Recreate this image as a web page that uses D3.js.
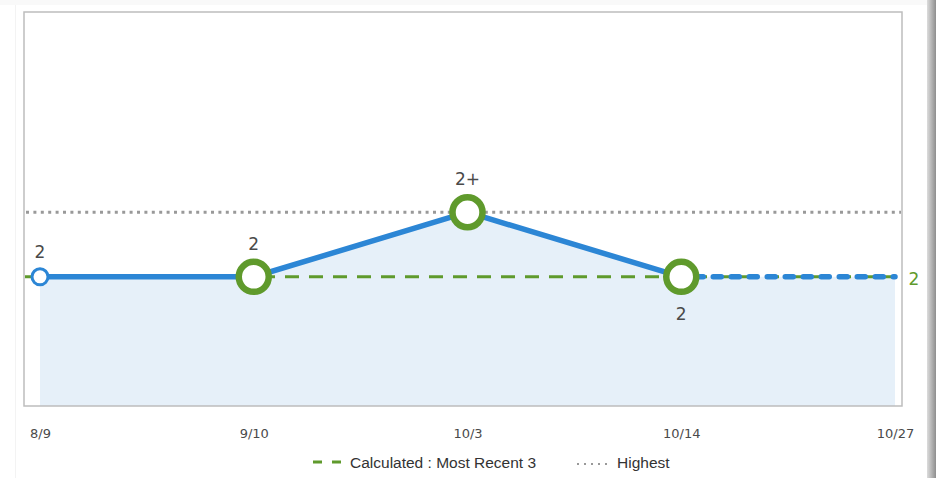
<!DOCTYPE html>
<html>
<head>
<meta charset="utf-8">
<script src="https://cdn.jsdelivr.net/npm/d3@7"></script>
<style>
  html, body { margin: 0; padding: 0; background: #fff; }
  svg { display: block; }
</style>
</head>
<body>
<svg id="chart"></svg>
<script>
// values
const dates = ['8/9', '9/10', '10/3', '10/14', '10/27']
const levels = [2, 2, 3, 2, 2]            // 3 stands for "2+"
const pointLabels = ['2', '2', '2+', '2', null]
const labelBelow = [false, false, false, true, false]
const markerKind = ['small', 'big', 'big', 'big', 'none']
const projected = [false, false, false, false, true] // last segment is dashed
const calculated = 2
const calculatedLabel = '2'
const highest = 3
const legendItems = ['Calculated : Most Recent 3', 'Highest']

const W = 936
const H = 478
const frame = { left: 24, right: 902, top: 12, bottom: 406 }

const blue = '#2c86d5'
const green = '#5f9a2c'
const textGray = '#4a4a4a'

const svg = d3.select('#chart')
  .attr('width', W)
  .attr('height', H)

// page card edges + shadow on the right
const defs = svg.append('defs')
const grad = defs.append('linearGradient').attr('id', 'shadow')
grad.append('stop').attr('offset', '0%').attr('stop-color', '#dcdcdc')
grad.append('stop').attr('offset', '100%').attr('stop-color', '#8e8e8e')

svg.append('rect')
  .attr('x', 0).attr('y', 0).attr('width', W).attr('height', 5)
  .attr('fill', '#f9f9f9')
svg.append('line')
  .attr('x1', 15.5).attr('x2', 15.5).attr('y1', 5).attr('y2', H)
  .attr('stroke', '#f3f3f3')
svg.append('rect')
  .attr('x', 927).attr('y', 0).attr('width', 9).attr('height', H)
  .attr('fill', 'url(#shadow)')

const x = d3.scalePoint()
  .domain(dates)
  .range([40, 895])

const y = d3.scaleLinear()
  .domain([0, 6.1])
  .range([frame.bottom, frame.top])

const pts = dates.map((d, i) => ({ date: d, value: levels[i], i }))

// area under the line
const area = d3.area()
  .x(d => x(d.date))
  .y0(frame.bottom)
  .y1(d => y(d.value))

svg.append('path')
  .datum(pts)
  .attr('fill', '#e6f0f9')
  .attr('d', area)

// frame
svg.append('rect')
  .attr('x', frame.left)
  .attr('y', frame.top)
  .attr('width', frame.right - frame.left)
  .attr('height', frame.bottom - frame.top)
  .attr('fill', 'none')
  .attr('stroke', '#bdbdbd')
  .attr('stroke-width', 1.5)

// highest (dotted)
svg.append('line')
  .attr('x1', frame.left + 2)
  .attr('x2', frame.right - 1)
  .attr('y1', y(highest))
  .attr('y2', y(highest))
  .attr('stroke', '#999')
  .attr('stroke-width', 3)
  .attr('stroke-dasharray', '3,4.4')

// calculated (green dashes)
svg.append('line')
  .attr('x1', frame.left + 1)
  .attr('x2', x(dates[dates.length - 1]))
  .attr('y1', y(calculated))
  .attr('y2', y(calculated))
  .attr('stroke', green)
  .attr('stroke-width', 3)
  .attr('stroke-dasharray', '14,10')
  .attr('stroke-dashoffset', 4)

svg.append('text')
  .attr('x', 914)
  .attr('y', y(calculated) + 8)
  .attr('text-anchor', 'middle')
  .attr('fill', green)
  .attr('font-family', 'DejaVu Sans, Verdana, sans-serif')
  .attr('font-size', 17)
  .text(calculatedLabel)

// the main line, solid part then projected part
const line = d3.line()
  .x(d => x(d.date))
  .y(d => y(d.value))

const solid = pts.filter((d, i) => !projected[i])
const dashed = pts.filter((d, i) => projected[i] || (i + 1 < pts.length && projected[i + 1]))

svg.append('path')
  .datum(solid)
  .attr('fill', 'none')
  .attr('stroke', blue)
  .attr('stroke-width', 5.5)
  .attr('stroke-linejoin', 'round')
  .attr('d', line)

svg.append('path')
  .datum(dashed)
  .attr('fill', 'none')
  .attr('stroke', blue)
  .attr('stroke-width', 5.5)
  .attr('stroke-linecap', 'round')
  .attr('stroke-dasharray', '8,10')
  .attr('stroke-dashoffset', -14)
  .attr('d', line)

// markers
const markers = pts.filter(d => markerKind[d.i] !== 'none')
svg.selectAll('circle.marker')
  .data(markers)
  .join('circle')
  .attr('class', 'marker')
  .attr('cx', d => x(d.date))
  .attr('cy', d => y(d.value))
  .attr('r', d => markerKind[d.i] === 'big' ? 15 : 8)
  .attr('fill', '#fff')
  .attr('stroke', d => markerKind[d.i] === 'big' ? green : blue)
  .attr('stroke-width', d => markerKind[d.i] === 'big' ? 6.5 : 3)

// point labels
svg.selectAll('text.plabel')
  .data(pts.filter(d => pointLabels[d.i]))
  .join('text')
  .attr('class', 'plabel')
  .attr('x', d => x(d.date))
  .attr('y', d => {
    const r = markerKind[d.i] === 'big' ? 18 : 9.5
    return labelBelow[d.i] ? y(d.value) + r + 25 : y(d.value) - r - 9
  })
  .attr('text-anchor', 'middle')
  .attr('fill', textGray)
  .attr('font-family', 'DejaVu Sans, Verdana, sans-serif')
  .attr('font-size', 17)
  .text(d => pointLabels[d.i])

// x axis labels
const xAxis = d3.axisBottom(x).tickSize(0).tickPadding(0)
const gx = svg.append('g')
  .attr('transform', `translate(0, 428)`)
  .call(xAxis)
gx.select('.domain').remove()
gx.selectAll('text')
  .attr('fill', textGray)
  .attr('font-family', 'DejaVu Sans, Verdana, sans-serif')
  .attr('font-size', 13)
  .attr('dy', '0.76em')

// legend
const legend = svg.append('g')
  .attr('transform', 'translate(313, 462)')
  .attr('font-family', 'Liberation Sans, Arial, Helvetica, sans-serif')
  .attr('font-size', 15.5)

legend.append('line')
  .attr('x1', 0).attr('x2', 28).attr('y1', 0).attr('y2', 0)
  .attr('stroke', green)
  .attr('stroke-width', 3)
  .attr('stroke-dasharray', '9,10')
legend.append('text')
  .attr('x', 37)
  .attr('y', 5.5)
  .attr('fill', '#333')
  .text(legendItems[0])

legend.append('line')
  .attr('x1', 264).attr('x2', 298).attr('y1', 2).attr('y2', 2)
  .attr('stroke', '#999')
  .attr('stroke-width', 2)
  .attr('stroke-dasharray', '2,5')
legend.append('text')
  .attr('x', 304)
  .attr('y', 5.5)
  .attr('fill', '#333')
  .text(legendItems[1])
</script>
</body>
</html>
